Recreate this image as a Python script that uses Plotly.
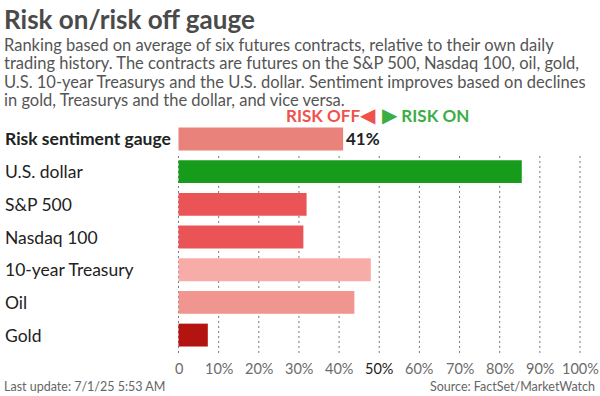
import plotly.graph_objects as go

categories = ["Risk sentiment gauge", "U.S. dollar", "S&P 500", "Nasdaq 100",
              "10-year Treasury", "Oil", "Gold"]
values = [41, 85.5, 31.9, 31.1, 47.9, 43.8, 7.3]
bar_colors = ["#e8827b", "#169b1a", "#ea5457", "#ea5457", "#f8aca8", "#f0958f", "#b3140f"]
tick_vals = [0, 10, 20, 30, 40, 50, 60, 70, 80, 90, 100]
tick_labels = ["0", "10%", "20%", "30%", "40%", "50%", "60%", "70%", "80%", "90%", "100%"]
gauge_label = "41%"
subtitle_lines = [
    "Ranking based on average of six futures contracts, relative to their own daily",
    "trading history. The contracts are futures on the S&P 500, Nasdaq 100, oil, gold,",
    "U.S. 10-year Treasurys and the U.S. dollar. Sentiment improves based on declines",
    "in gold, Treasurys and the dollar, and vice versa.",
]

FONT = "Lato, 'Noto Sans', sans-serif"
L, R, T, B = 178, 19, 121, 40
PW = 600 - L - R

ypos = list(range(len(categories)))

fig = go.Figure()
fig.add_trace(go.Bar(
    x=values, y=ypos, orientation="h",
    marker=dict(color=bar_colors, line=dict(width=0)),
    width=0.7, hoverinfo="skip", showlegend=False,
))

# dotted gridlines (below gauge row)
shapes = []
for v in tick_vals:
    shapes.append(dict(type="line", xref="x", yref="y", x0=v, x1=v, y0=0.52, y1=6.64,
                       line=dict(color="#777777", width=1, dash="2px,3px"), layer="below"))

annotations = []
# category labels, left-aligned
for i, c in enumerate(categories):
    txt = f"<b>{c}</b>" if i == 0 else c
    annotations.append(dict(xref="paper", yref="y", x=(3 - L) / PW, y=i,
                            text=txt, showarrow=False, xanchor="left", yanchor="middle",
                            font=dict(family=FONT, size=17.5, color="#222222")))
# tick labels
for v, t in zip(tick_vals, tick_labels):
    col = "#222222" if v == 50 else "#6b6b6b"
    annotations.append(dict(xref="x", yref="paper", x=v, y=0, yshift=-12, text=t,
                            showarrow=False, xanchor="center", yanchor="middle",
                            font=dict(family=FONT, size=14.5, color=col)))
# gauge value label
annotations.append(dict(xref="x", yref="y", x=values[0], y=0, xshift=1, text=f"<b>{gauge_label}</b>",
                        showarrow=False, xanchor="left", yanchor="middle",
                        font=dict(family=FONT, size=17, color="#222222")))
# risk header
annotations.append(dict(xref="x", yref="paper", x=50, y=1, yshift=T - 114, xshift=-1,
                        text="<b>RISK OFF</b><span style='font-size:20px'>◀</span>",
                        showarrow=False, xanchor="right", yanchor="middle",
                        font=dict(family=FONT, size=17, color="#f0524c")))
annotations.append(dict(xref="x", yref="paper", x=50, y=1, yshift=T - 114, xshift=1,
                        text="<span style='font-size:20px'>▶</span> <b>RISK ON</b>",
                        showarrow=False, xanchor="left", yanchor="middle",
                        font=dict(family=FONT, size=17, color="#3aae45")))
# title + subtitle
annotations.append(dict(xref="paper", yref="paper", x=(2 - L) / PW, y=1, yshift=T - 19,
                        text="<b>Risk on/risk off gauge</b>", showarrow=False,
                        xanchor="left", yanchor="middle",
                        font=dict(family=FONT, size=26, color="#4a4a4a", weight=900)))
for k, line in enumerate(subtitle_lines):
    annotations.append(dict(xref="paper", yref="paper", x=(2 - L) / PW, y=1,
                            yshift=T - (45 + 18.4 * k),
                            text=line, showarrow=False, xanchor="left", yanchor="middle", align="left",
                            font=dict(family=FONT, size=16.5, color="#555555")))
# footer
annotations.append(dict(xref="paper", yref="paper", x=(2 - L) / PW, y=0, yshift=-(386 - (396 - B)),
                        text="Last update: 7/1/25 5:53 AM", showarrow=False,
                        xanchor="left", yanchor="middle",
                        font=dict(family=FONT, size=12.5, color="#666666")))
annotations.append(dict(xref="paper", yref="paper", x=(597 - L) / PW, y=0, yshift=-(386 - (396 - B)),
                        text="Source: FactSet/MarketWatch", showarrow=False,
                        xanchor="right", yanchor="middle",
                        font=dict(family=FONT, size=12.5, color="#666666")))

fig.update_layout(
    width=600, height=396,
    margin=dict(l=L, r=R, t=T, b=B),
    paper_bgcolor="white", plot_bgcolor="white",
    xaxis=dict(range=[-0.125, 100.25], showgrid=False, zeroline=False, showticklabels=False,
               ticks="", fixedrange=True),
    yaxis=dict(range=[6.64, -0.55], showgrid=False, zeroline=False, showticklabels=False,
               ticks="", fixedrange=True),
    shapes=shapes, annotations=annotations,
    font=dict(family=FONT),
)

fig.write_html("out.html", config={"displayModeBar": False},
               post_script="document.body.style.margin='0';document.body.style.padding='0';")
